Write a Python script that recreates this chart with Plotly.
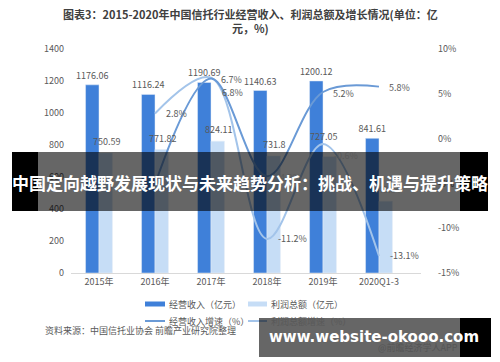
import plotly.graph_objects as go

categories = ["2015年", "2016年", "2017年", "2018年", "2019年", "2020Q1-3"]
revenue = [1176.06, 1116.24, 1190.69, 1140.63, 1200.12, 841.61]
revenue_labels = ["1176.06", "1116.24", "1190.69", "1140.63", "1200.12", "841.61"]
profit = [750.59, 771.82, 824.11, 731.8, 727.05, 448.84]
profit_labels = ["750.59", "771.82", "824.11", "731.8", "727.05", "448.84"]

growth_categories = ["2016年", "2017年", "2018年", "2019年", "2020Q1-3"]
revenue_growth = [-5.1, 6.7, -4.2, 5.2, 5.8]
profit_growth = [2.8, 6.8, -11.2, -0.6, -13.1]

left_ticks = [0, 200, 400, 600, 800, 1000, 1200, 1400]
right_ticks = [10, 5, 0, -5, -10, -15]
right_tick_text = ["10%", "5%", "0%", "-5%", "-10%", "-15%"]

FONT = "Noto Sans CJK SC, Noto Sans, sans-serif"
GRAY = "#595959"
DARK_BAR = "#3f80d9"
LIGHT_BAR = "#c6ddf6"
REV_LINE = "#6a9ad6"
PROF_LINE = "#a3c4ea"

W, H = 500, 362
L, R, T, B = 71, 421, 49, 273


def px(x):
    return (x - L) / (R - L)


def py(y):
    return (B - y) / (B - T)


fig = go.Figure()
fig.add_trace(go.Bar(
    x=categories, y=revenue, name="经营收入（亿元）", marker_color=DARK_BAR,
    text=revenue_labels, textposition="outside", cliponaxis=False, constraintext="none",
    textangle=0, textfont=dict(size=9, color=GRAY, family=FONT)))
fig.add_trace(go.Bar(
    x=categories, y=profit, name="利润总额（亿元）", marker_color=LIGHT_BAR))

fig.add_trace(go.Scatter(
    x=growth_categories, y=profit_growth, yaxis="y2", mode="lines",
    line=dict(color=PROF_LINE, width=2, shape="spline", smoothing=1.0),
    name="利润总额增速（%）"))
fig.add_trace(go.Scatter(
    x=growth_categories, y=revenue_growth, yaxis="y2", mode="lines",
    line=dict(color=REV_LINE, width=2, shape="spline", smoothing=1.0),
    name="经营收入增速（%）"))

shapes = []
annotations = []

# profit bar labels (above the light bar of each group)
for cat, val, lab in zip(categories, profit, profit_labels):
    lift = 9 if cat == "2019年" else 0
    dx = 0 if cat == "2019年" else 7
    annotations.append(dict(x=cat, y=val, xref="x", yref="y", xshift=dx, yshift=3 + lift,
                            xanchor="center", yanchor="bottom", showarrow=False, text=lab,
                            font=dict(size=9, color=GRAY, family=FONT)))

# growth labels, to the right of each point
profit_dy = {"2017年": -15, "2019年": -12}
for cat, val in zip(growth_categories, profit_growth):
    annotations.append(dict(x=cat, y=val, xref="x", yref="y2", xshift=9,
                            yshift=profit_dy.get(cat, 0), xanchor="left", yanchor="middle",
                            showarrow=False, text=f"{val}%",
                            font=dict(size=9, color=GRAY, family=FONT)))
for cat, val in zip(growth_categories, revenue_growth):
    annotations.append(dict(x=cat, y=val, xref="x", yref="y2", xshift=8,
                            yshift=-1, xanchor="left", yanchor="middle",
                            showarrow=False, text=f"{val}%",
                            font=dict(size=9, color=GRAY, family=FONT)))

# title
annotations.append(dict(
    x=px(250), y=py(21), xref="paper", yref="paper", showarrow=False,
    xanchor="center", yanchor="middle",
    text="<b>图表3：2015-2020年中国信托行业经营收入、利润总额及增长情况(单位：亿<br>元，%)</b>",
    font=dict(size=11, color="#404040", family=FONT), align="center"))

# manual legend
legend_items = [
    ("rect", DARK_BAR, 145, 165, 304, "经营收入（亿元）"),
    ("rect", LIGHT_BAR, 248, 267, 304, "利润总额（亿元）"),
    ("line", REV_LINE, 145, 165, 321, "经营收入增速（%）"),
    ("line", PROF_LINE, 248, 267, 321, "利润总额增速（%）"),
]
for kind, col, x0, x1, yc, label in legend_items:
    if kind == "rect":
        shapes.append(dict(type="rect", xref="paper", yref="paper",
                           x0=px(x0), x1=px(x1), y0=py(yc + 2.5), y1=py(yc - 2.5),
                           fillcolor=col, line=dict(width=0)))
    else:
        shapes.append(dict(type="line", xref="paper", yref="paper",
                           x0=px(x0), x1=px(x1), y0=py(yc), y1=py(yc),
                           line=dict(color=col, width=2)))
    annotations.append(dict(x=px(x1 + 2), y=py(yc), xref="paper", yref="paper",
                            xanchor="left", yanchor="middle", showarrow=False,
                            text=label, font=dict(size=9, color=GRAY, family=FONT)))

# source
annotations.append(dict(x=px(43), y=py(330), xref="paper", yref="paper",
                        xanchor="left", yanchor="middle", showarrow=False,
                        text="资料来源：中国信托业协会 前瞻产业研究院整理",
                        font=dict(size=9, color=GRAY, family=FONT)))
annotations.append(dict(x=px(460), y=py(347), xref="paper", yref="paper",
                        xanchor="right", yanchor="middle", showarrow=False,
                        text="@前瞻经济学人APP",
                        font=dict(size=9, color="#555555", family=FONT)))

# overlay band with headline
shapes.append(dict(type="rect", xref="paper", yref="paper", x0=px(38), x1=px(460),
                   y0=py(211), y1=py(152), fillcolor="rgba(0,0,0,0.6)", line=dict(width=0), layer="above"))
shapes.append(dict(type="rect", xref="paper", yref="paper", x0=px(12), x1=px(38),
                   y0=py(211), y1=py(152), fillcolor="#000000", line=dict(width=0), layer="above"))
shapes.append(dict(type="rect", xref="paper", yref="paper", x0=px(460), x1=px(488),
                   y0=py(211), y1=py(152), fillcolor="#000000", line=dict(width=0), layer="above"))
annotations.append(dict(x=px(250), y=py(182), xref="paper", yref="paper",
                        xanchor="center", yanchor="middle", showarrow=False,
                        text="<b>中国定向越野发展现状与未来趋势分析：挑战、机遇与提升策略</b>",
                        font=dict(size=17, color="#ffffff", family=FONT)))

# bottom watermark band
shapes.append(dict(type="rect", xref="paper", yref="paper", x0=px(259), x1=px(460),
                   y0=py(357), y1=py(318), fillcolor="rgba(0,0,0,0.6)", line=dict(width=0), layer="above"))
shapes.append(dict(type="rect", xref="paper", yref="paper", x0=px(460), x1=px(491),
                   y0=py(357), y1=py(318), fillcolor="#000000", line=dict(width=0), layer="above"))
annotations.append(dict(x=px(374), y=py(337), xref="paper", yref="paper",
                        xanchor="center", yanchor="middle", showarrow=False,
                        text="<b>www.website-okooo.com</b>",
                        font=dict(size=15, color="#ffffff", family="DejaVu Sans, sans-serif")))

fig.update_layout(
    width=W, height=H,
    margin=dict(l=L, r=W - R, t=T, b=H - B, pad=0),
    paper_bgcolor="white", plot_bgcolor="white",
    barmode="group", bargap=0.52, bargroupgap=0,
    showlegend=False,
    font=dict(family=FONT, size=9, color=GRAY),
    xaxis=dict(type="category", categoryorder="array", categoryarray=categories,
               showline=True, linecolor="#d9d9d9", linewidth=1, ticks="",
               showgrid=False, tickfont=dict(size=9, color=GRAY)),
    yaxis=dict(range=[0, 1400], tickvals=left_ticks, showgrid=False, zeroline=False,
               showline=False, ticks="", ticklabelstandoff=6,
               tickfont=dict(size=9, color=GRAY)),
    yaxis2=dict(range=[-15, 10], overlaying="y", side="right", tickvals=right_ticks,
                ticktext=right_tick_text, showgrid=False, zeroline=False, showline=False,
                ticks="", ticklabelstandoff=16, tickfont=dict(size=9, color=GRAY)),
    shapes=shapes, annotations=annotations,
)

fig.write_html("out.html", config={"displayModeBar": False},
               post_script="document.body.style.margin='0';document.body.style.overflow='hidden';")
